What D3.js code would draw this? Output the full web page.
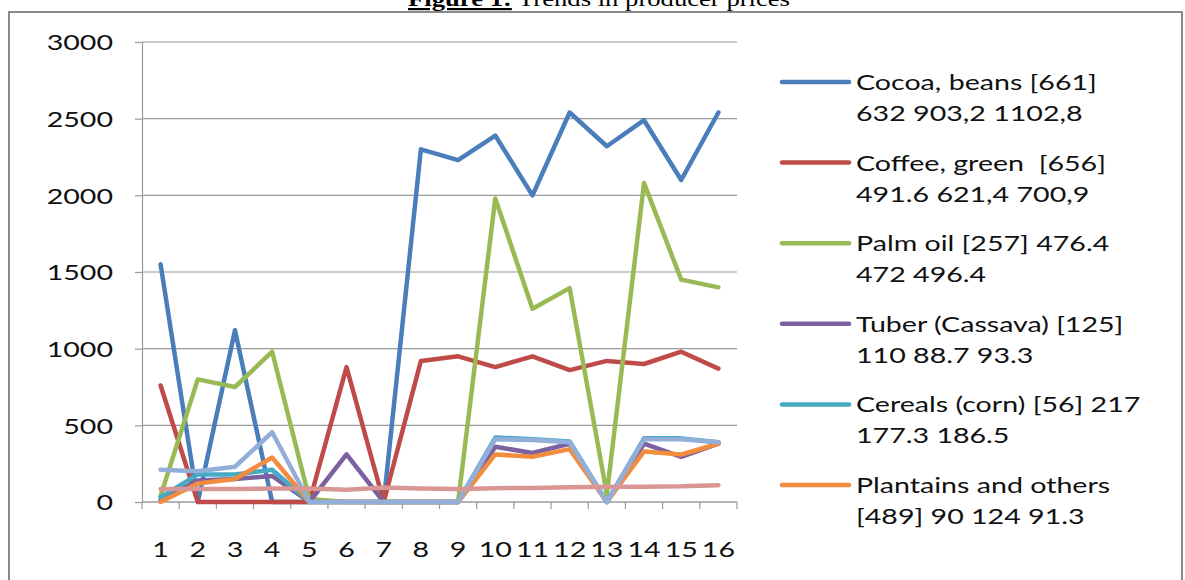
<!DOCTYPE html>
<html>
<head>
<meta charset="utf-8">
<script src="https://cdn.jsdelivr.net/npm/d3@7"></script>
<style>
  html, body { margin: 0; padding: 0; background: #fff; }
  svg { display: block; }
  text { white-space: pre; }
</style>
</head>
<body>
<svg id="chart" width="1185" height="580"></svg>
<script>
// Producer prices by period, eight commodity series
const categories = ["1","2","3","4","5","6","7","8","9","10","11","12","13","14","15","16"];
const yTicks = [0, 500, 1000, 1500, 2000, 2500, 3000];

const cocoa     = [1550, 0, 1120, 0, 0, 0, 0, 2300, 2230, 2390, 2000, 2540, 2320, 2490, 2100, 2540];
const coffee    = [760, 0, 0, 0, 0, 880, 0, 920, 950, 880, 950, 860, 920, 900, 980, 870];
const palmOil   = [40, 800, 750, 980, 20, 0, 0, 0, 0, 1980, 1260, 1395, 50, 2080, 1450, 1400];
const cassava   = [10, 140, 150, 170, 0, 310, 0, 0, 0, 360, 320, 380, 0, 380, 295, 380];
const corn      = [30, 180, 180, 210, 0, 0, 0, 0, 0, 420, 410, 395, 0, 415, 415, 390];
const plantains = [0, 120, 150, 290, 0, 0, 0, 0, 0, 310, 295, 345, 0, 330, 310, 380];
const series7   = [210, 200, 230, 455, 0, 0, 0, 0, 0, 410, 405, 390, 0, 410, 410, 390];
const series8   = [85, 85, 85, 88, 88, 80, 95, 88, 85, 90, 92, 97, 100, 100, 102, 110];

const seriesNames = [
  ["Cocoa, beans [661]", "632 903,2 1102,8"],
  ["Coffee, green  [656]", "491.6 621,4 700,9"],
  ["Palm oil [257] 476.4", "472 496.4"],
  ["Tuber (Cassava) [125]", "110 88.7 93.3"],
  ["Cereals (corn) [56] 217", "177.3 186.5"],
  ["Plantains and others", "[489] 90 124 91.3"],
  ["Series 7"],
  ["Series 8"]
];
const seriesValues = [cocoa, coffee, palmOil, cassava, corn, plantains, series7, series8];
const seriesColors = ["#4A7EBB", "#BE4B48", "#98B954", "#7D60A0", "#46AAC5", "#F38D3E", "#93AED8", "#D99694"];
const legendCount = 6;

const series = seriesValues.map((vals, i) => ({
  name: seriesNames[i], color: seriesColors[i],
  values: vals.map((v, j) => ({ cat: categories[j], v }))
}));

const svg = d3.select("#chart");
const FONT = "Lato, 'Open Sans', sans-serif";
const STRETCH = 1.3;

// Frame
svg.append("rect")
  .attr("x", 9).attr("y", 12).attr("width", 1173).attr("height", 600)
  .attr("fill", "none").attr("stroke", "#8a8a8a").attr("stroke-width", 2);

// Caption above the frame
const title = svg.append("text")
  .attr("x", 408).attr("y", 6)
  .attr("font-family", "'Liberation Serif', 'Times New Roman', serif")
  .attr("font-size", 22).attr("fill", "#000")
  .attr("textLength", 382).attr("lengthAdjust", "spacingAndGlyphs");
title.append("tspan").attr("font-weight", "bold").attr("text-decoration", "underline").text("Figure 1:");
title.append("tspan").text(" Trends in producer prices");

const plot = { left: 142, right: 737, top: 42, bottom: 502 };

const x = d3.scaleBand().domain(categories).range([plot.left, plot.right]).padding(0);
const y = d3.scaleLinear().domain([0, 3000]).range([plot.bottom, plot.top]);
const cx = c => x(c) + x.bandwidth() / 2;

// Horizontal gridlines
svg.append("g")
  .selectAll("line").data(yTicks).join("line")
  .attr("x1", plot.left).attr("x2", plot.right)
  .attr("y1", d => y(d)).attr("y2", d => y(d))
  .attr("stroke", "#999").attr("stroke-width", 1.2);

// Y axis
const yAxis = svg.append("g")
  .attr("transform", `translate(${plot.left},0)`)
  .call(d3.axisLeft(y).tickValues(yTicks).tickSize(7).tickPadding(0).tickFormat(d3.format("d")));
yAxis.select(".domain").attr("stroke", "#999").attr("stroke-width", 1.2);
yAxis.selectAll(".tick line").attr("stroke", "#999").attr("stroke-width", 1.2);
yAxis.selectAll(".tick text")
  .attr("font-family", FONT).attr("font-size", 22).attr("fill", "#111")
  .attr("x", 0).attr("dy", "0.36em")
  .attr("transform", `translate(-29,0) scale(${STRETCH},1)`);

// X axis with ticks at category boundaries
const xAxisG = svg.append("g").attr("transform", `translate(0,${plot.bottom})`);
xAxisG.append("line")
  .attr("x1", plot.left).attr("x2", plot.right)
  .attr("stroke", "#999").attr("stroke-width", 1.2);
const boundaries = categories.map(c => x(c)).concat([plot.right]);
xAxisG.selectAll("line.tk").data(boundaries).join("line").attr("class", "tk")
  .attr("x1", d => d).attr("x2", d => d).attr("y1", 0).attr("y2", 7)
  .attr("stroke", "#999").attr("stroke-width", 1.2);
xAxisG.selectAll("text").data(categories).join("text")
  .attr("font-family", FONT).attr("font-size", 22).attr("fill", "#111")
  .attr("text-anchor", "middle")
  .attr("transform", d => `translate(${cx(d)},55) scale(${STRETCH},1)`)
  .text(d => d);

// Series lines
const line = d3.line().x(d => cx(d.cat)).y(d => y(d.v));
svg.append("g").selectAll("path").data(series).join("path")
  .attr("d", d => line(d.values))
  .attr("fill", "none")
  .attr("stroke", d => d.color)
  .attr("stroke-width", 4.5)
  .attr("stroke-linejoin", "round")
  .attr("stroke-linecap", "round");

// Legend
const legend = svg.append("g");
const legendItems = legend.selectAll("g").data(series.slice(0, legendCount)).join("g")
  .attr("transform", (d, i) => `translate(782,${82 + i * 80.6})`);
legendItems.append("line")
  .attr("x1", 0).attr("x2", 67).attr("y1", 0).attr("y2", 0)
  .attr("stroke", d => d.color).attr("stroke-width", 4.5).attr("stroke-linecap", "round");
legendItems.each(function(d) {
  const g = d3.select(this);
  d.name.forEach((ln, k) => {
    g.append("text")
      .attr("font-family", FONT).attr("font-size", 22).attr("fill", "#111")
      .attr("dy", "0.36em")
      .attr("transform", `translate(74,${k * 31}) scale(${STRETCH},1)`)
      .text(ln);
  });
});
</script>
</body>
</html>
